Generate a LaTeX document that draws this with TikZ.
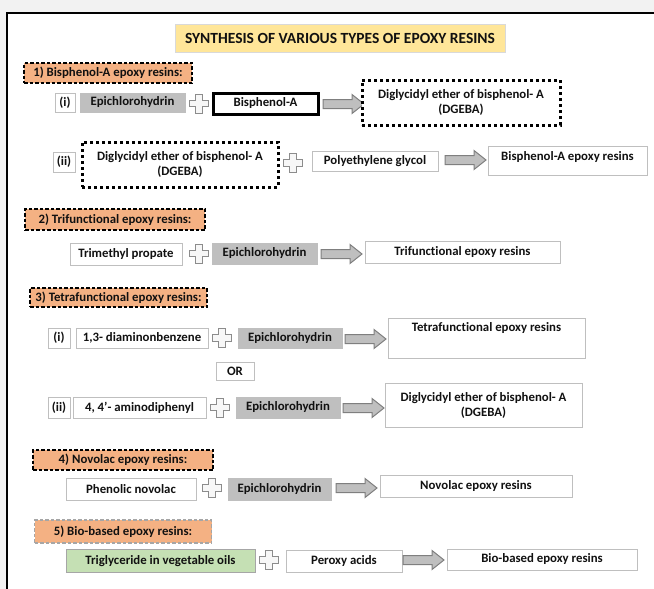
\documentclass[tikz,border=0pt]{standalone}
\usepackage{fontspec}
\setmainfont{Carlito}[Ligatures={NoCommon}]
\definecolor{bordergray}{HTML}{BFBFBF}
\definecolor{fillgray}{HTML}{BFBFBF}
\definecolor{arrowedge}{HTML}{7F7F7F}
\definecolor{plusedge}{HTML}{8C8C8C}
\definecolor{plusfill}{HTML}{F7F7F7}
\definecolor{dashgray}{HTML}{A6A6A6}
\definecolor{titlefill}{HTML}{FFE699}
\definecolor{labelfill}{HTML}{F4B183}
\definecolor{greenfill}{HTML}{C5E0B4}
\definecolor{txt}{HTML}{111111}
\definecolor{pagegray}{HTML}{F2F2F2}
\tikzset{
  every node/.style={font=\fontsize{12.8}{15}\selectfont\bfseries, text=txt, inner sep=0pt, align=center},
  box/.style={draw=bordergray, line width=0.8pt, fill=white, rectangle},
  graybox/.style={fill=fillgray, draw=fillgray, line width=0.5pt, rectangle},
  thickbox/.style={draw=black, line width=3pt, fill=white, rectangle},
  dotbox/.style={draw=black, line width=3pt, dash pattern=on 3pt off 3pt, fill=white, rectangle},
  secbox/.style={draw=black, line width=1.1pt, dash pattern=on 3.5pt off 2pt, fill=labelfill, rectangle},
  secboxgray/.style={draw=dashgray, line width=1.1pt, dash pattern=on 3.5pt off 2pt, fill=labelfill, rectangle},
  greenbox/.style={draw=dashgray, line width=0.8pt, fill=greenfill, rectangle},
  titlebox/.style={draw=bordergray!60, line width=0.6pt, fill=titlefill, rectangle, font=\fontsize{15.5}{18}\selectfont\bfseries},
  plussign/.pic={\draw[draw=plusedge, fill=plusfill, line width=1pt]
     (-3.2,-9.5) -- (3.2,-9.5) -- (3.2,-3.2) -- (9.5,-3.2) -- (9.5,3.2) -- (3.2,3.2)
     -- (3.2,9.5) -- (-3.2,9.5) -- (-3.2,3.2) -- (-9.5,3.2) -- (-9.5,-3.2) -- (-3.2,-3.2) -- cycle;},
  blockarrow/.pic={\draw[draw=arrowedge, fill=fillgray, line width=1pt]
     (0,-4.5) -- (29,-4.5) -- (29,-9.5) -- (41,0) -- (29,9.5) -- (29,4.5) -- (0,4.5) -- cycle;}
}
\begin{document}
\begin{tikzpicture}[x=1pt,y=-1pt]
\useasboundingbox (0,0) rectangle (654,589);
\fill[pagegray] (0,0) rectangle (654,589);
\fill[white] (7,13) rectangle (654,589);
\draw[black, line width=2pt] (7,589) -- (7,13) -- (654,13);

% title
\node[titlebox, minimum width=330, minimum height=28] (title) at (340,38) {SYNTHESIS OF VARIOUS TYPES OF EPOXY RESINS};

% section 1
\node[secbox, minimum width=168, minimum height=20] (s1) at (108,73) {1) Bisphenol-A epoxy resins:};
\node[box, minimum width=20, minimum height=19] (r1i) at (65,102.5) {(i)};
\node[graybox, minimum width=105, minimum height=19] (r1a) at (132.5,102.5) {Epichlorohydrin};
\pic (p1) at (199,103.5) {plussign};
\node[thickbox, minimum width=105, minimum height=21] (r1b) at (265.5,103.5) {Bisphenol-A};
\pic (a1) at (323,104) {blockarrow};
\node[dotbox, minimum width=198, minimum height=45] (r1c) at (461,102.5) {Diglycidyl ether of bisphenol- A\\(DGEBA)};

\node[box, minimum width=22, minimum height=20] (r2i) at (64,162) {(ii)};
\node[dotbox, minimum width=196, minimum height=45] (r2a) at (180,164.5) {Diglycidyl ether of bisphenol- A\\(DGEBA)};
\pic (p2) at (293,163) {plussign};
\node[box, minimum width=126, minimum height=20] (r2b) at (375,161) {Polyethylene glycol};
\pic (a2) at (445,160) {blockarrow};
\node[box, minimum width=159, minimum height=29] (r2c) at (567.5,160.5) {};
\node (r2ct) at (567.5,157) {Bisphenol-A epoxy resins};

% section 2
\node[secbox, minimum width=180, minimum height=21] (s2) at (115,219.5) {2) Trifunctional epoxy resins:};
\node[box, minimum width=112, minimum height=22] (r3a) at (126,254) {Trimethyl propate};
\pic (p3) at (199,253.5) {plussign};
\node[graybox, minimum width=105, minimum height=21] (r3b) at (264.5,253.5) {Epichlorohydrin};
\pic (a3) at (321,254) {blockarrow};
\node[box, minimum width=195, minimum height=22] (r3c) at (462.5,252) {Trifunctional epoxy resins};

% section 3
\node[secbox, minimum width=177, minimum height=19] (s3) at (118.5,297.5) {3) Tetrafunctional epoxy resins:};
\node[box, minimum width=22, minimum height=20] (r4i) at (59,338) {(i)};
\node[box, minimum width=132, minimum height=20] (r4a) at (142,338) {1,3- diaminonbenzene};
\pic (p4) at (222,338) {plussign};
\node[graybox, minimum width=104, minimum height=20] (r4b) at (290,338) {Epichlorohydrin};
\pic (a4) at (345,339) {blockarrow};
\node[box, minimum width=197, minimum height=40] (r4c) at (486.5,338) {};
\node (r4ct) at (486.5,328) {Tetrafunctional epoxy resins};
\node[box, minimum width=38, minimum height=18] (or) at (235,371) {OR};
\node[box, minimum width=22, minimum height=21] (r5i) at (59,407.5) {(ii)};
\node[box, minimum width=133, minimum height=21] (r5a) at (139.5,407.5) {4, 4\char"0027- aminodiphenyl};
\pic (p5) at (220,407.5) {plussign};
\node[graybox, minimum width=104, minimum height=21] (r5b) at (288,407.5) {Epichlorohydrin};
\pic (a5) at (343,408) {blockarrow};
\node[box, minimum width=197, minimum height=44] (r5c) at (483.5,405) {Diglycidyl ether of bisphenol- A\\(DGEBA)};

% section 4
\node[secbox, minimum width=180, minimum height=20] (s4) at (123,460) {4) Novolac epoxy resins:};
\node[box, minimum width=130, minimum height=22] (r6a) at (131,489) {Phenolic novolac};
\pic (p6) at (212,488) {plussign};
\node[graybox, minimum width=103, minimum height=22] (r6b) at (279.5,489) {Epichlorohydrin};
\pic (a6) at (336,488) {blockarrow};
\node[box, minimum width=192, minimum height=22] (r6c) at (476,486) {Novolac epoxy resins};

% section 5
\node[secboxgray, minimum width=177, minimum height=23] (s5) at (123,531.5) {5) Bio-based epoxy resins:};
\node[greenbox, minimum width=189, minimum height=23] (r7a) at (160.5,561) {Triglyceride in vegetable oils};
\pic (p7) at (269,560) {plussign};
\node[box, minimum width=116, minimum height=22] (r7b) at (344,561) {Peroxy acids};
\pic (a7) at (403,560) {blockarrow};
\node[box, minimum width=190, minimum height=21] (r7c) at (542,559.5) {Bio-based epoxy resins};
\end{tikzpicture}
\end{document}
